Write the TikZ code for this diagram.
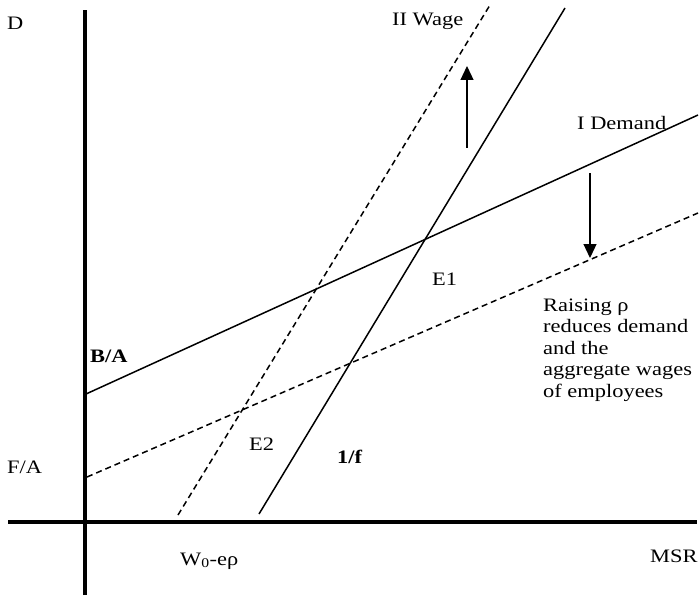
\documentclass[tikz,border=0pt]{standalone}
\usepackage{fontspec}
\setmainfont[FakeStretch=1.18]{Liberation Serif}
\usetikzlibrary{arrows.meta}

\tikzset{
  axisline/.style={line width=3.6pt},
  curve/.style={line width=1.5pt},
  shifted/.style={dash pattern=on 6pt off 4pt},
  lbl/.style={font=\fontsize{19}{22}\selectfont, inner sep=0pt, anchor=base west},
  note/.style={font=\fontsize{19}{21.5}\selectfont, inner sep=0pt, anchor=base west, align=left},
  shiftarrow/.style={line width=1.2pt, -{Triangle[length=14pt,width=13pt]}}
}

\begin{document}
\begin{tikzpicture}[x=1pt,y=-1pt]
  \useasboundingbox (0,0) rectangle (700,596);

  % axes
  \coordinate (ytop) at (85,10);
  \coordinate (ybot) at (85,595);
  \coordinate (xleft) at (8,522);
  \coordinate (xright) at (697,522);
  \draw[axisline] (ybot) -- (ytop);
  \draw[axisline] (xleft) -- (xright);

  % demand curves
  \coordinate (demA) at (86,394);
  \coordinate (demB) at (698,115);
  \coordinate (demC) at (87,477);
  \coordinate (demD) at (698,213);
  \draw[curve] (demA) -- (demB);
  \draw[curve, shifted] (demC) -- (demD);

  % wage curves
  \coordinate (wageA) at (259,514);
  \coordinate (wageB) at (565,8);
  \coordinate (wageC) at (178,515);
  \coordinate (wageD) at (490,5);
  \draw[curve] (wageA) -- (wageB);
  \draw[curve, shifted] (wageC) -- (wageD);

  % shifts
  \coordinate (upfrom) at (467,148);
  \coordinate (upto) at (467,66);
  \coordinate (downfrom) at (590,173);
  \coordinate (downto) at (590,258);
  \draw[shiftarrow] (upfrom) -- (upto);
  \draw[shiftarrow] (downfrom) -- (downto);

  % labels
  \node[lbl] (dlabel) at (7,30) {D};
  \node[lbl] (wagelabel) at (392,26) {II Wage};
  \node[lbl] (demandlabel) at (577,130) {I Demand};
  \node[lbl] (eone) at (432,285) {E1};
  \node[lbl] (etwo) at (249,450) {E2};
  \node[lbl, font=\fontsize{19}{22}\selectfont\bfseries] (balabel) at (90,362) {B/A};
  \node[lbl] (falabel) at (7,473) {F/A};
  \node[lbl, font=\fontsize{19}{22}\selectfont\bfseries] (flabel) at (337,463) {1/f};
  \node[lbl] (wlabel) at (180,565) {W\textsubscript{0}-eρ};
  \node[lbl] (msrlabel) at (650,562) {MSR};
  \node[note] (raising) at (543,397) {Raising ρ\\reduces demand\\and the\\aggregate wages\\of employees};
\end{tikzpicture}
\end{document}
